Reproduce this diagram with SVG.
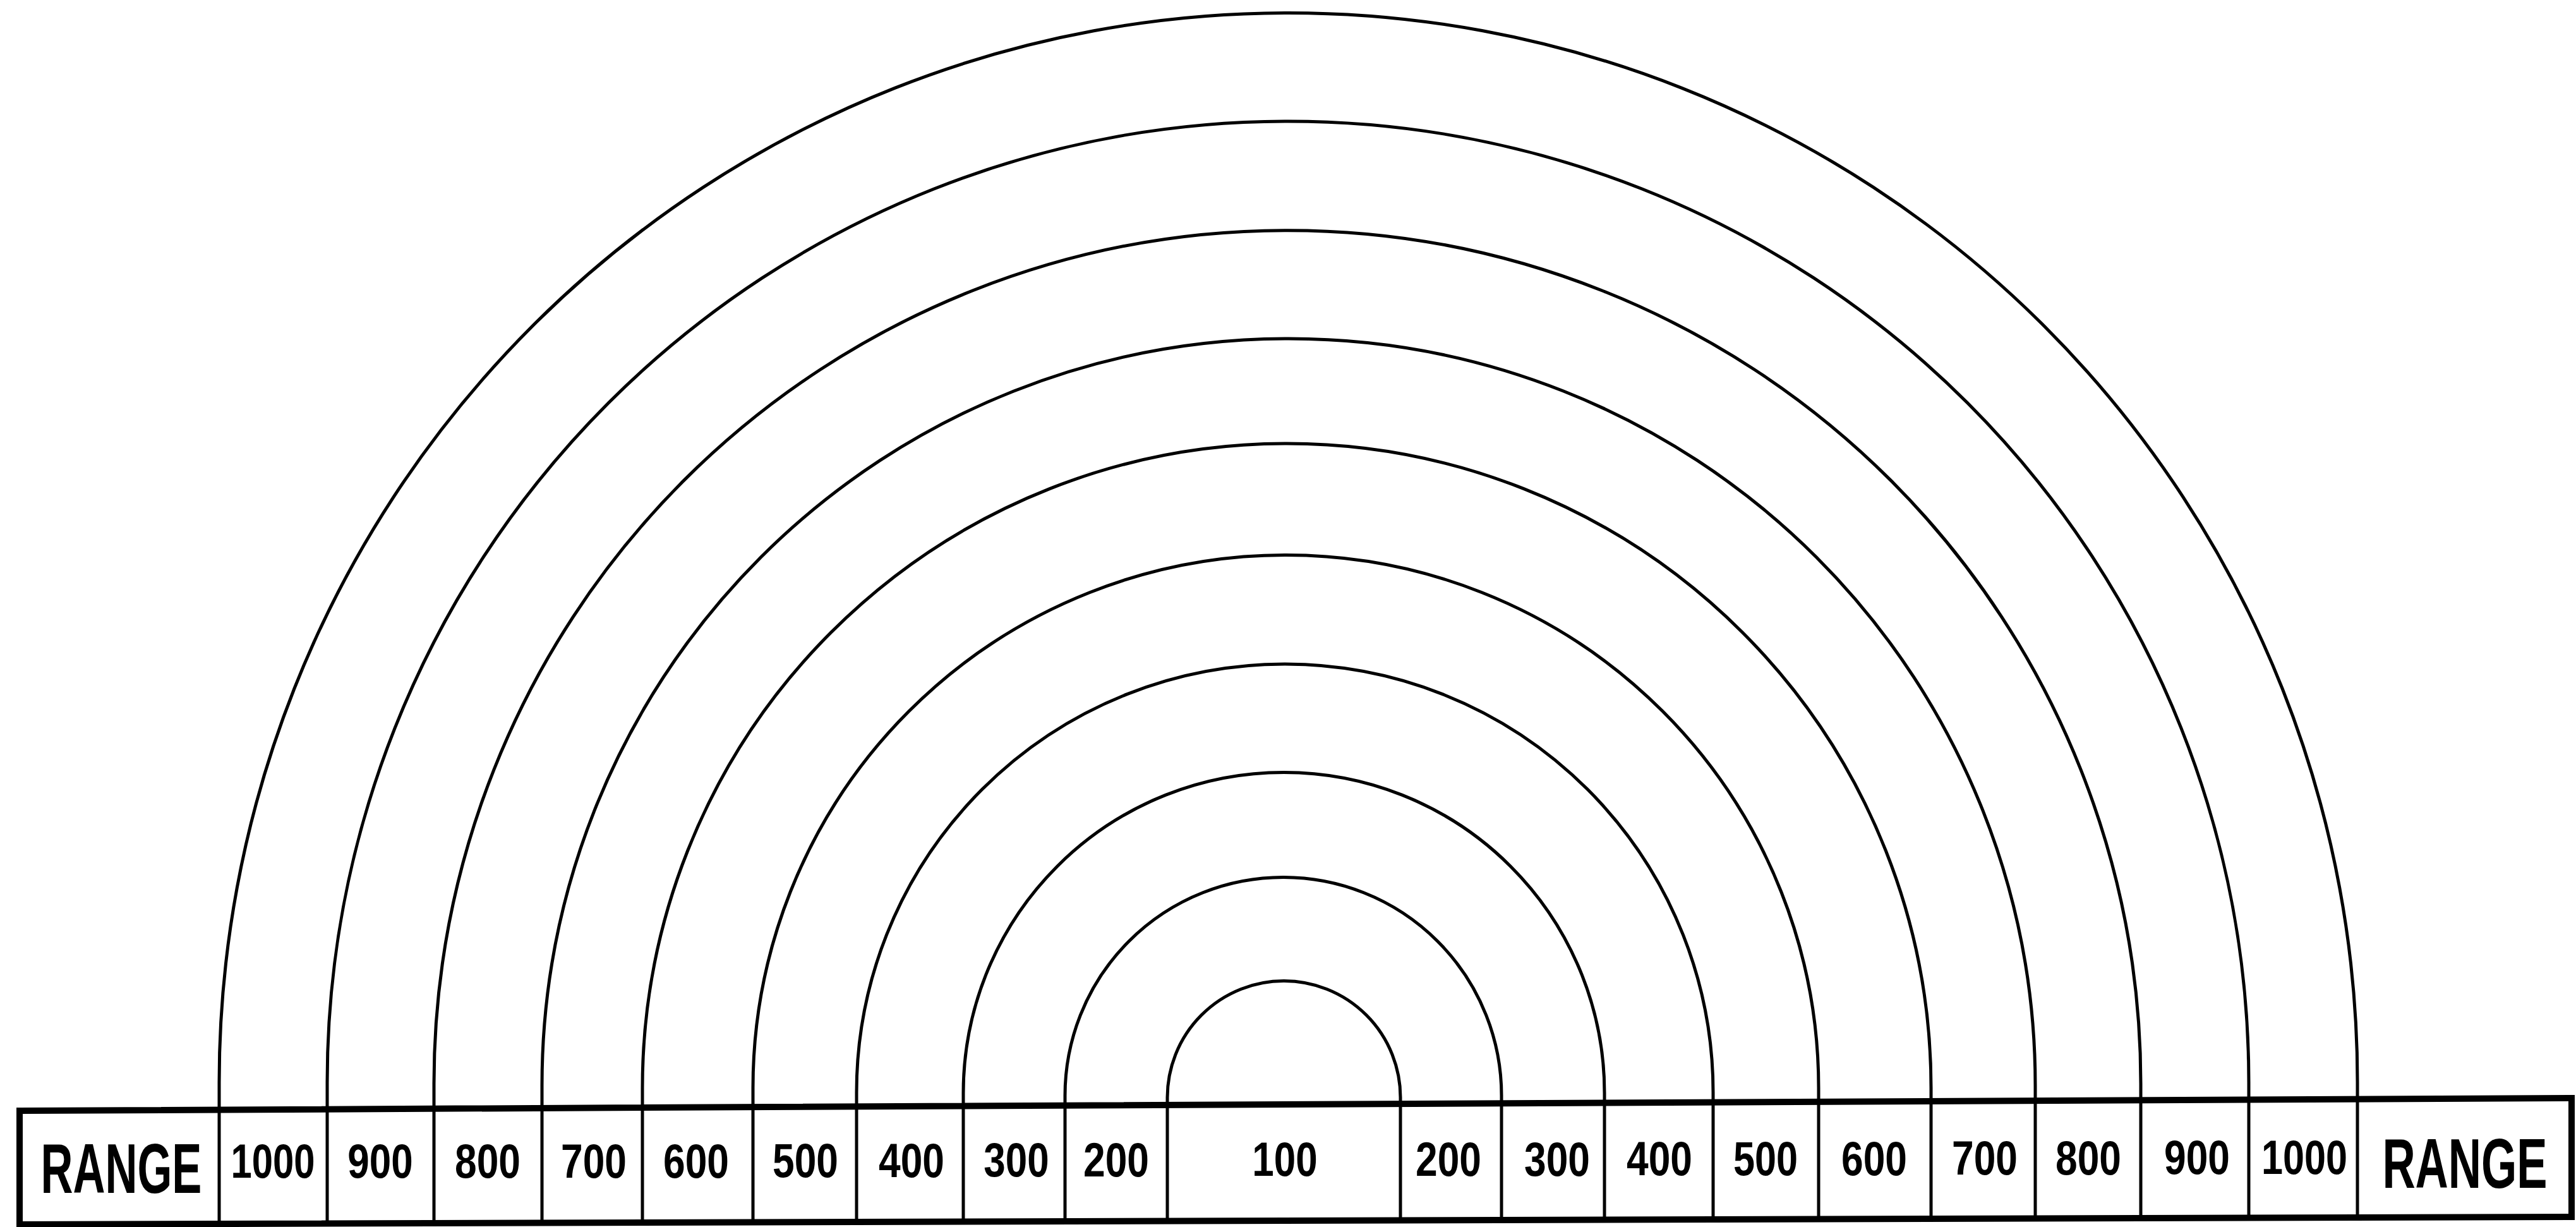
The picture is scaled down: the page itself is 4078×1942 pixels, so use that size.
<svg xmlns="http://www.w3.org/2000/svg" width="4078" height="1942" viewBox="0 0 4078 1942">
<style>
.arc{fill:none;stroke:#000;stroke-width:5;stroke-linejoin:round}
.div{stroke:#000;stroke-width:5}
.bar{fill:none;stroke:#000;stroke-width:10;stroke-linejoin:miter}
.num{font-family:"Liberation Sans",Arial,sans-serif;font-weight:bold;font-size:76px;text-anchor:middle;fill:#000}
.rng{font-family:"Liberation Sans",Arial,sans-serif;font-weight:bold;font-size:112px;text-anchor:middle;fill:#000}
</style>
<rect width="4078" height="1942" fill="#fff"/>
<g id="connectors">
<path id="arc-100" class="arc" d="M1848 1749.1 L1848 1737 A184.5 184.5 0 0 1 2217 1737 L2217 1747.3"/>
<path id="arc-200" class="arc" d="M1686 1750 L1686 1734 A345.5 345.5 0 0 1 2377 1734 L2377 1746.4"/>
<path id="arc-300" class="arc" d="M1525 1750.6 L1525 1730 A507.5 507.5 0 0 1 2540 1730 L2540 1745.6"/>
<path id="arc-400" class="arc" d="M1356 1751.4 L1356 1729 A678 678 0 0 1 2712 1729 L2712 1744.7"/>
<path id="arc-500" class="arc" d="M1192 1752.3 L1192 1722 A843.5 843.5 0 0 1 2879 1722 L2879 1743.9"/>
<path id="arc-600" class="arc" d="M1017 1753.1 L1017 1722 A1020 1020 0 0 1 3057 1722 L3057 1743"/>
<path id="arc-700" class="arc" d="M858 1753.9 L858 1718 A1182 1182 0 0 1 3222 1718 L3222 1742.2"/>
<path id="arc-800" class="arc" d="M687 1754.8 L687 1715 A1351 1351 0 0 1 3389 1715 L3389 1741.4"/>
<path id="arc-900" class="arc" d="M518 1755.6 L518 1713 A1521 1521 0 0 1 3560 1713 L3560 1740.5"/>
<path id="arc-1000" class="arc" d="M347 1756.4 L347 1713 A1692.5 1692.5 0 0 1 3732 1713 L3732 1739.7"/>
</g>
<g id="range-bar">
<polygon class="bar" points="31,1758 4071,1738 4071,1926 31,1938"/>
<g id="dividers">
<line class="div" x1="347" y1="1756.4" x2="347" y2="1937"/>
<line class="div" x1="518" y1="1755.6" x2="518" y2="1937"/>
<line class="div" x1="687" y1="1754.8" x2="687" y2="1936"/>
<line class="div" x1="858" y1="1753.9" x2="858" y2="1936"/>
<line class="div" x1="1017" y1="1753.1" x2="1017" y2="1935"/>
<line class="div" x1="1192" y1="1752.3" x2="1192" y2="1934"/>
<line class="div" x1="1356" y1="1751.4" x2="1356" y2="1934"/>
<line class="div" x1="1525" y1="1750.6" x2="1525" y2="1933"/>
<line class="div" x1="1686" y1="1750" x2="1686" y2="1933"/>
<line class="div" x1="1848" y1="1749.1" x2="1848" y2="1932"/>
<line class="div" x1="2217" y1="1747.3" x2="2217" y2="1931"/>
<line class="div" x1="2377" y1="1746.4" x2="2377" y2="1930"/>
<line class="div" x1="2540" y1="1745.6" x2="2540" y2="1930"/>
<line class="div" x1="2712" y1="1744.7" x2="2712" y2="1929"/>
<line class="div" x1="2879" y1="1743.9" x2="2879" y2="1929"/>
<line class="div" x1="3057" y1="1743" x2="3057" y2="1928"/>
<line class="div" x1="3222" y1="1742.2" x2="3222" y2="1928"/>
<line class="div" x1="3389" y1="1741.4" x2="3389" y2="1927"/>
<line class="div" x1="3560" y1="1740.5" x2="3560" y2="1927"/>
<line class="div" x1="3732" y1="1739.7" x2="3732" y2="1926"/>
</g>
</g>
<g id="labels">
<g id="cell-range-left"><text class="rng" transform="translate(192 1888) scale(0.63 1)">RANGE</text></g>
<g id="cell-1000-left"><text class="num" transform="translate(432 1864) scale(0.787 1)">1000</text></g>
<g id="cell-900-left"><text class="num" transform="translate(602 1864) scale(0.815 1)">900</text></g>
<g id="cell-800-left"><text class="num" transform="translate(772 1864) scale(0.82 1)">800</text></g>
<g id="cell-700-left"><text class="num" transform="translate(940 1864) scale(0.82 1)">700</text></g>
<g id="cell-600-left"><text class="num" transform="translate(1102 1864) scale(0.82 1)">600</text></g>
<g id="cell-500-left"><text class="num" transform="translate(1275 1863) scale(0.82 1)">500</text></g>
<g id="cell-400-left"><text class="num" transform="translate(1443 1863) scale(0.82 1)">400</text></g>
<g id="cell-300-left"><text class="num" transform="translate(1609 1862) scale(0.815 1)">300</text></g>
<g id="cell-200-left"><text class="num" transform="translate(1767 1862) scale(0.82 1)">200</text></g>
<g id="cell-100"><text class="num" transform="translate(2034 1861) scale(0.815 1)">100</text></g>
<g id="cell-200-right"><text class="num" transform="translate(2293 1861) scale(0.82 1)">200</text></g>
<g id="cell-300-right"><text class="num" transform="translate(2465 1861) scale(0.82 1)">300</text></g>
<g id="cell-400-right"><text class="num" transform="translate(2627 1860) scale(0.82 1)">400</text></g>
<g id="cell-500-right"><text class="num" transform="translate(2795 1860) scale(0.805 1)">500</text></g>
<g id="cell-600-right"><text class="num" transform="translate(2967 1860) scale(0.82 1)">600</text></g>
<g id="cell-700-right"><text class="num" transform="translate(3142 1859) scale(0.82 1)">700</text></g>
<g id="cell-800-right"><text class="num" transform="translate(3306 1859) scale(0.82 1)">800</text></g>
<g id="cell-900-right"><text class="num" transform="translate(3478 1858) scale(0.82 1)">900</text></g>
<g id="cell-1000-right"><text class="num" transform="translate(3648 1858) scale(0.805 1)">1000</text></g>
<g id="cell-range-right"><text class="rng" transform="translate(3902 1880) scale(0.646 1)">RANGE</text></g>
</g>
</svg>
